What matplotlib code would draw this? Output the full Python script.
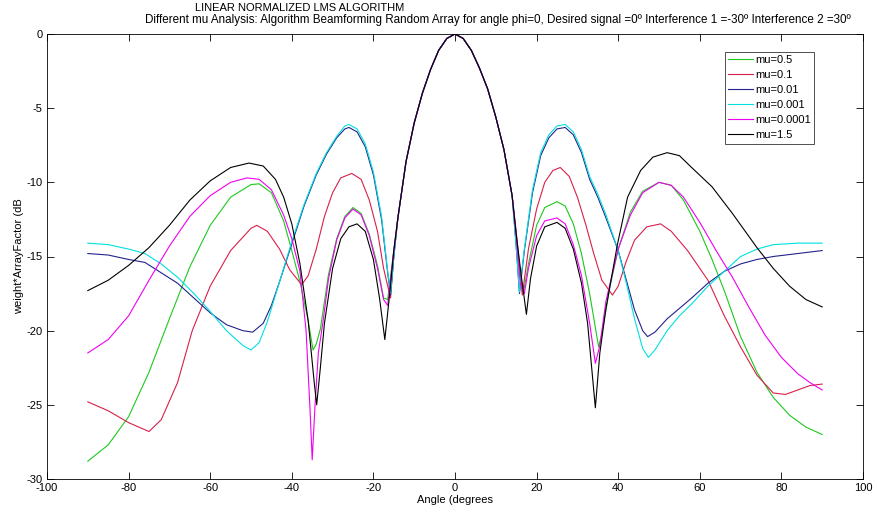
import numpy as np
import matplotlib
matplotlib.use('Agg')
import matplotlib.pyplot as plt

plt.rcParams['font.family'] = ['Liberation Sans', 'DejaVu Sans']
plt.rcParams['axes.unicode_minus'] = False

# shared main lobe around 0 degrees
main_x = [-14, -12, -10, -8, -6, -4, -2, 0, 2, 4, 6, 8, 10, 12, 14]
main_y = [-12.4, -8.6, -6.0, -4.0, -2.4, -1.1, -0.3, 0, -0.3, -1.1, -2.3, -3.7, -5.6, -7.8, -10.9]

# mu = 0.5 (green)
g_left_x = [-90, -85, -80, -75, -70, -65, -60, -55, -50, -48, -45, -42, -40, -38, -36, -34.8, -34, -33,
            -31, -29, -27, -25, -23, -21, -19, -17.5, -16.5, -15]
g_left_y = [-28.8, -27.7, -25.8, -22.8, -19.2, -15.7, -12.9, -11.0, -10.15, -10.1, -10.7, -12.6, -14.6, -16.7,
            -19.3, -21.3, -20.9, -19.9, -16.2, -13.8, -12.3, -11.7, -12.1, -13.5, -15.6, -17.8, -17.9, -14.6]
g_right_x = [15, 16, 16.8, 18, 20, 22, 25, 27, 29, 31, 33, 35.2, 36, 38, 40, 43, 46, 50, 53, 56, 60, 63, 66,
             70, 74, 78, 82, 86, 90]
g_right_y = [-13.6, -16.5, -17.4, -15.5, -12.9, -11.7, -11.3, -11.6, -12.8, -14.8, -17.5, -21.1, -20.2, -17.0,
             -14.5, -12.0, -10.6, -10.0, -10.2, -11.2, -13.3, -15.2, -17.3, -20.4, -22.8, -24.5, -25.7, -26.5, -27.0]

# mu = 0.1 (red)
r_left_x = [-90, -85, -80, -75, -72, -68, -64.4, -60, -55, -50, -48.6, -46, -43, -40.5, -37.6, -36, -34, -32,
            -30, -28, -25.3, -23, -21, -19, -17.5, -15.8, -15]
r_left_y = [-24.8, -25.4, -26.2, -26.8, -26.0, -23.5, -20.0, -17.0, -14.6, -13.1, -12.9, -13.3, -14.5, -15.9,
            -16.9, -16.3, -14.5, -12.3, -10.7, -9.7, -9.4, -9.8, -11.2, -13.3, -15.8, -17.8, -15.0]
r_right_x = [15, 16.5, 18, 20, 22, 24, 25.8, 28, 30, 32, 34, 36, 38.6, 40, 42, 44, 47, 50.4, 53, 57, 62, 66,
             70, 74, 78, 81, 84, 87, 90]
r_right_y = [-13.3, -17.6, -14.5, -11.8, -10.0, -9.2, -9.0, -9.6, -11.0, -12.8, -14.8, -16.6, -17.6, -17.0,
             -15.3, -13.9, -13.0, -12.8, -13.3, -14.6, -16.6, -19.0, -21.1, -23.0, -24.2, -24.3, -24.0, -23.7, -23.6]

# mu = 0.01 (dark blue)
b_left_x = [-90, -85, -80, -76, -72, -68, -64, -60, -56, -52, -49.6, -47, -45, -43, -41, -39, -37, -34,
            -31.5, -29, -27, -26, -24, -22, -20, -18, -16.5, -15.8, -15]
b_left_y = [-14.8, -14.9, -15.2, -15.4, -16.1, -16.8, -17.8, -18.8, -19.6, -20.0, -20.1, -19.5, -18.3, -16.7,
            -15.0, -13.3, -11.6, -9.5, -8.1, -7.0, -6.4, -6.3, -6.6, -7.6, -9.5, -12.5, -16.1, -17.6, -15.0]
b_right_x = [15, 15.8, 17, 19, 21, 23, 25, 27, 29, 31, 33, 35, 37, 40, 42, 44, 46, 47.2, 49, 52, 55, 58, 62,
             66, 70, 74, 78, 84, 90]
b_right_y = [-14.3, -17.5, -14.6, -10.7, -8.2, -7.0, -6.4, -6.3, -6.8, -8.0, -9.8, -11.0, -12.4, -14.6,
             -16.6, -18.6, -20.0, -20.4, -20.1, -19.2, -18.5, -17.8, -16.8, -16.0, -15.5, -15.2, -15.0, -14.8, -14.6]

# mu = 0.001 (cyan)
c_left_x = [-90, -85, -80, -76, -72, -68, -64, -60, -56, -52, -50, -48, -46, -44, -42, -40, -37, -34,
            -31.5, -29, -27, -26, -24, -22, -20, -18, -16.5, -15.8, -15]
c_left_y = [-14.1, -14.2, -14.5, -14.8, -15.5, -16.4, -17.5, -18.7, -20.0, -21.0, -21.3, -20.8, -19.4, -17.6,
            -15.8, -14.0, -11.5, -9.4, -8.0, -6.9, -6.2, -6.1, -6.4, -7.4, -9.3, -12.3, -16.0, -17.5, -15.0]
c_right_x = [15, 15.8, 17, 19, 21, 23, 25, 27, 29, 31, 33, 35, 37, 40, 42, 44, 46, 47.4, 49, 52, 55, 58, 62,
             66, 70, 74, 78, 84, 90]
c_right_y = [-14.3, -17.4, -14.5, -10.5, -8.0, -6.8, -6.2, -6.1, -6.6, -7.8, -9.6, -10.8, -12.2, -14.6,
             -16.8, -19.2, -21.2, -21.8, -21.3, -20.0, -19.0, -18.2, -17.0, -16.0, -15.0, -14.5, -14.2, -14.1, -14.1]

# mu = 0.0001 (magenta)
m_left_x = [-90, -85, -80, -75, -70, -65, -60, -55, -51, -48, -45, -42, -40, -38, -36.5, -35.5, -35, -34.3,
            -33.5, -32.4, -31, -29, -27, -25, -23, -21, -19, -17.5, -16.5, -15]
m_left_y = [-21.5, -20.6, -19.0, -16.6, -14.3, -12.3, -10.9, -10.0, -9.7, -9.8, -10.5, -12.2, -13.8, -16.0,
            -20.0, -25.5, -28.7, -25.0, -21.5, -19.5, -16.5, -13.9, -12.4, -11.8, -12.2, -13.6, -15.8, -17.9, -18.3, -14.6]
m_right_x = [15, 16, 17, 18, 20, 22, 25, 27, 29, 31, 33, 34.4, 35.5, 37, 40, 43, 46, 50, 53, 56, 60, 64, 68,
             72, 76, 80, 84, 87, 90]
m_right_y = [-13.6, -16.8, -17.5, -15.8, -13.6, -12.6, -12.4, -12.8, -14.2, -16.3, -19.5, -22.2, -21.0, -18.0,
             -14.5, -12.2, -10.7, -10.0, -10.2, -11.0, -12.7, -14.6, -16.4, -18.4, -20.3, -21.8, -22.9, -23.5, -24.0]

# mu = 1.5 (black)
k_left_x = [-90, -85, -80, -75, -70, -65, -60, -55, -50.5, -47, -44, -42, -40, -38, -36, -34.5, -33.9, -33,
            -32, -30, -28, -26, -24, -22, -20, -18.5, -17.2, -16, -15]
k_left_y = [-17.3, -16.6, -15.6, -14.4, -12.9, -11.2, -9.9, -9.0, -8.7, -8.9, -9.8, -11.0, -12.8, -15.5,
            -19.3, -23.5, -25.0, -22.5, -19.5, -15.8, -13.8, -13.0, -12.8, -13.3, -15.2, -17.8, -20.6, -17.5, -14.6]
k_right_x = [15, 16.2, 17.5, 18.5, 20, 22, 25, 27, 29, 31, 32.5, 34.4, 35.5, 37, 39.8, 42.3, 45.5, 48.5, 52,
             55, 58, 63, 68, 74, 78, 82, 86, 90]
k_right_y = [-13.5, -16.2, -18.9, -16.5, -14.3, -13.0, -12.7, -13.1, -14.5, -16.8, -19.5, -25.2, -21.5, -18.5,
             -14.2, -11.0, -9.2, -8.3, -8.0, -8.2, -9.0, -10.3, -12.1, -14.4, -15.8, -17.0, -17.9, -18.4]

labels = ['mu=0.5', 'mu=0.1', 'mu=0.01', 'mu=0.001', 'mu=0.0001', 'mu=1.5']
colors = ['#1ec81e', '#d8204a', '#23238c', '#00e0e0', '#f000f0', 'k']
curves = [(g_left_x, g_left_y, g_right_x, g_right_y),
          (r_left_x, r_left_y, r_right_x, r_right_y),
          (b_left_x, b_left_y, b_right_x, b_right_y),
          (c_left_x, c_left_y, c_right_x, c_right_y),
          (m_left_x, m_left_y, m_right_x, m_right_y),
          (k_left_x, k_left_y, k_right_x, k_right_y)]

fig = plt.figure(figsize=(8.77, 5.12), dpi=100)
ax = fig.add_axes([47/877, 1-479/512, (863-47)/877, (479-34)/512])

for (lx, ly, rx, ry), col, lab in zip(curves, colors, labels):
    x = np.concatenate([lx, main_x, rx])
    y = np.concatenate([ly, main_y, ry])
    ax.plot(x, y, color=col, lw=0.8, label=lab)

ax.set_xlim(-100, 100)
ax.set_ylim(-30, 0)
ax.set_xticks(np.arange(-100, 101, 20))
ax.set_yticks(np.arange(-30, 1, 5))
ax.tick_params(direction='in', top=True, right=True, length=5, width=0.6, labelsize=8, pad=3)
for s in ax.spines.values():
    s.set_linewidth(0.6)
ax.set_xlabel('Angle (degrees', fontsize=8, labelpad=1)
ax.set_ylabel('weight*ArrayFactor (dB', fontsize=8, labelpad=2)

leg = ax.legend(loc='upper right', bbox_to_anchor=(0.940, 0.9596), fontsize=8, frameon=True,
                fancybox=False, edgecolor='k', borderpad=0.3, handlelength=2.2,
                handletextpad=0.2, labelspacing=0.45, borderaxespad=0)
leg.get_frame().set_linewidth(0.6)

fig.text(195/877, 1-8/512, 'LINEAR NORMALIZED LMS ALGORITHM', fontsize=8, ha='left', va='center')
fig.text(145/877, 1-20/512, 'Different mu Analysis: Algorithm Beamforming Random Array for angle phi=0, '
         'Desired signal =0\u00ba Interference 1 =-30\u00ba Interference 2 =30\u00ba',
         fontsize=8.4, ha='left', va='center')

fig.savefig('out.png', dpi=100)
